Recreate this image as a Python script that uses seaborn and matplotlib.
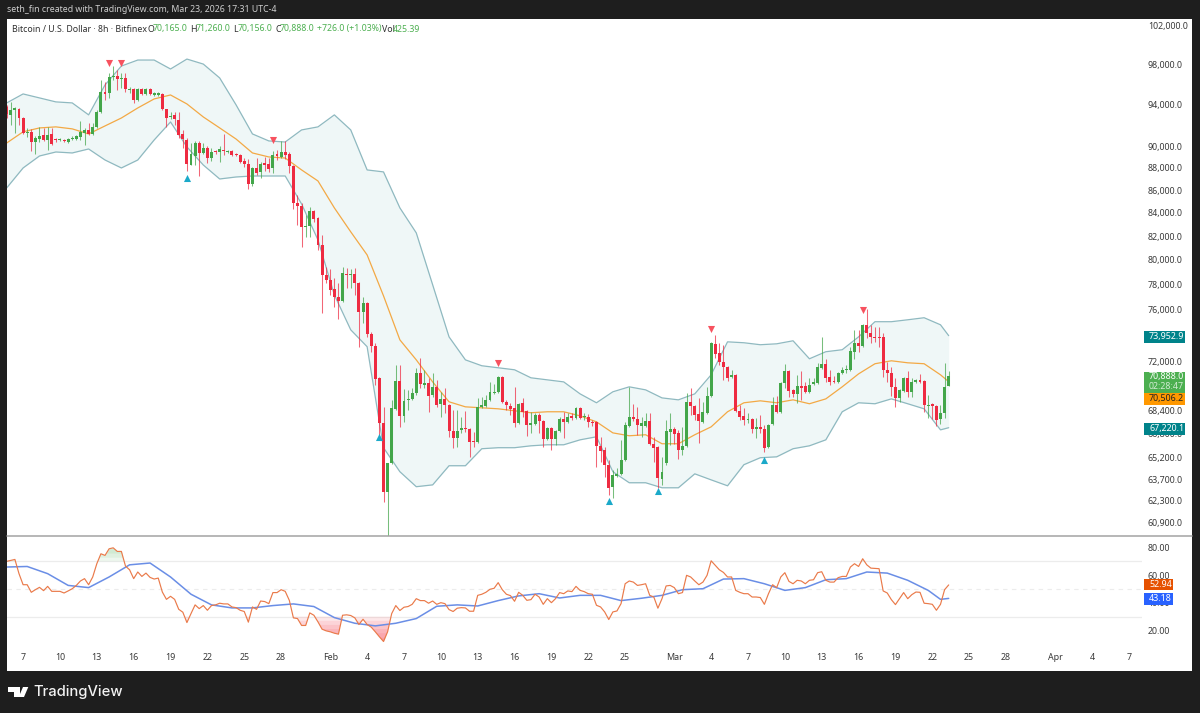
import pandas as pd
import numpy as np
import seaborn as sns
import matplotlib
matplotlib.use("Agg")
import matplotlib.pyplot as plt
from matplotlib.patches import Rectangle, Polygon, Circle

opens = [93750,92980,93460,93560,92680,91260,91350,90400,90690,91060,
 90590,91160,90690,90590,90590,90400,90690,90690,90880,91260,
 91540,91160,91830,93270,95210,95110,96710,96810,96510,96610,
 95410,95510,94430,95510,95020,95510,94920,94920,95020,93560,
 92780,92980,92490,91160,90590,88270,89100,90310,89380,89850,
 88910,89570,89470,89660,89470,89570,89290,89190,88640,88360,
 86550,88000,87640,88460,88360,88000,89290,89010,89470,89290,
 88180,84860,84600,82790,82870,84160,83550,81250,78770,78360,
 77630,76990,76670,78850,78770,78850,78120,75810,76510,74090,
 73180,70790,67560,62900,64820,68550,70570,68050,69190,69260,
 69690,71160,70280,70420,69550,70130,68910,69260,68840,67000,
 66520,67070,67210,67140,66310,66240,68690,68770,69190,69690,
 69770,70860,69050,68770,68620,67560,68980,68410,67420,67490,
 68120,67700,66450,67210,66450,67000,67840,67630,68050,67910,
 68620,67980,67980,67630,67630,65970,65700,64690,63230,63940,
 64080,65020,67350,67980,67840,67350,67350,67700,66110,65900,
 63750,64820,66930,67140,66860,65700,65970,69050,68770,68200,
 67630,68270,69480,73330,72650,71970,71600,70860,71010,68410,
 68050,67770,67840,67140,67280,67140,65900,67490,68840,68340,
 70420,71310,69910,69620,70200,70200,69770,70350,70420,71530,
 71830,70860,70570,70490,71160,71380,71380,72730,73400,73180,
 74790,74170,73860,73860,73860,71380,71160,70130,69330,69840,
 70790,69770,70490,70640,70570,68770,68910,68770,67840,68270,
 70165]
highs = [93950,94240,93750,93650,92780,91730,91640,90970,91830,91730,
 91830,91730,90780,90780,90690,90780,90970,91060,92400,91730,
 92210,92210,93460,96410,96210,97110,97810,97410,97110,97110,
 95710,95610,95610,95610,95610,95610,95210,95210,95110,93560,
 93270,93270,93270,91540,90780,90310,90500,90500,90310,90030,
 89850,89660,90030,91160,89660,89660,89380,89290,88910,88820,
 88090,88910,88550,89010,88910,89570,89660,90500,90500,89470,
 88270,85570,84860,83810,84510,84250,83640,82100,79430,79260,
 78520,78120,79430,79340,79260,79340,78200,76980,76590,74250,
 73410,70860,68690,64820,69190,71750,71750,69980,69910,70050,
 71530,72270,71380,70790,71160,70640,69770,70060,68910,68480,
 68480,67980,68410,67210,66930,69330,69400,69550,70490,70350,
 70930,70930,69190,68980,70130,68980,69330,68480,68340,68270,
 68270,67770,67280,67280,67070,67980,68340,68270,68270,68690,
 68690,68270,68200,67770,67700,66590,65900,65020,64350,64490,
 66380,67630,70130,68910,68690,67980,68270,68270,66590,65970,
 65220,67770,68270,67280,67070,67280,69690,70060,68840,69330,
 69050,70130,73480,74010,73410,73260,71680,71380,71080,68840,
 68620,68270,67910,67910,68120,67420,67490,69400,69480,70490,
 71830,71380,69980,71010,71310,70490,70790,70790,71900,73860,
 72200,71380,70930,71230,71600,71750,73110,74400,74400,74870,
 76050,74790,74630,74630,74170,71970,71600,70790,69980,70860,
 71310,70790,70710,71080,70640,69550,68980,68840,68840,71900,
 71260]
lows = [92680,92020,91260,92020,91180,90880,89570,89290,90400,90500,
 89660,90130,90400,90500,90400,90310,90590,90590,90590,90130,
 91060,91060,91730,93170,94430,94630,96410,95410,95610,95210,
 95110,94140,94330,94920,94920,94920,94820,94820,93460,91830,
 92590,92020,90780,89850,87730,88270,88270,87270,89290,88460,
 88640,89290,88550,89190,89380,89100,89100,88460,88090,86110,
 86370,87370,87090,87730,87640,87550,88730,88910,88820,87550,
 84340,82960,81080,81920,81920,83210,80830,75730,78120,77150,
 76200,75260,76590,77710,77710,77150,73100,74950,73860,72730,
 70280,66590,62250,60100,64750,68480,67280,67630,68480,69190,
 69550,70060,70060,68340,69400,68690,67980,68270,66590,65840,
 65900,66860,66930,65220,65900,66170,68620,68690,69120,69620,
 69690,68980,68480,68130,67280,67490,67980,66660,66860,67420,
 66860,65900,66380,65700,66040,66930,66520,67560,67770,67840,
 67840,67770,67280,67350,64550,64880,63880,62700,62510,63880,
 64020,64950,67280,67700,66730,66590,67280,66040,64880,63160,
 63350,64690,66040,66110,65090,65360,65900,68130,67770,66170,
 67560,68200,69400,72270,71750,70640,70570,70790,68340,67770,
 67420,67560,66860,66520,66860,65560,65840,67420,68270,68270,
 70060,69400,69400,68980,69190,69690,69690,70280,70350,71450,
 70490,70280,70420,70420,71080,71160,71310,72200,72730,73110,
 73780,73410,73480,73110,70860,70490,69480,68690,69050,69770,
 69400,69400,70420,70420,68340,67910,67840,67350,67490,67910,
 70156]
closes = [93070,93460,93650,92680,91260,91350,90400,90780,90970,90590,
 91060,90220,90590,90690,90500,90690,90780,90970,91350,91540,
 91160,91830,93270,95210,95020,96710,96810,96510,96610,95510,
 95510,94430,95510,95020,95510,95020,95110,95110,93560,92680,
 92880,92590,91060,90690,88360,89290,90310,89380,89850,88910,
 89470,89470,89750,89570,89570,89190,89190,88550,88360,86550,
 88000,87550,88360,88270,87910,89190,89100,89470,89190,88180,
 84860,84600,82790,82870,84160,83470,81250,78770,78360,77550,
 76990,76670,78930,78770,78850,78120,75810,76510,74090,73180,
 70710,67560,62900,64820,68620,70570,68050,69120,69260,69690,
 71160,70350,70420,69480,70130,68840,69260,68840,67000,66520,
 67000,67210,67140,66240,66240,68690,68840,69190,69770,69770,
 70860,69050,68840,68550,67560,68910,68340,67420,67560,68120,
 67700,66450,67210,66450,67000,67840,67630,67980,67910,68620,
 67910,68050,67630,67560,65970,65630,64690,63160,64020,64080,
 65020,67420,67980,67840,67420,67560,67700,66110,65840,63810,
 64220,67000,67140,66790,65700,65970,69050,68770,68130,67700,
 68340,69480,73400,72580,71970,71600,70790,71010,68410,67980,
 67770,67840,67140,67280,67140,65840,67420,68840,68340,70420,
 71310,69840,69620,70200,70060,69770,70280,70490,71600,71830,
 70790,70490,70490,71160,71380,71450,72800,73400,73180,74790,
 74170,73860,73780,73780,71380,71160,70130,69330,69910,70790,
 69770,70490,70640,70490,68840,68840,68770,67770,68270,70130,
 70888]

band_bars = list(range(0, 229, 4)) + [230]
band_upper = [94140,95020,94630,94240,94140,92980,95910,97810,98420,98420,
 97510,98520,98010,96610,93950,91160,90500,90400,91540,91830,
 92980,91540,87820,87640,84430,82270,77960,73860,72120,71680,
 71530,71380,70790,70640,70490,69620,68980,69770,70130,69910,
 69330,69190,69620,71010,73480,73410,73260,73330,73560,72200,
 72730,72880,73860,75030,75030,75180,75340,74790,73953]
band_middle = [90310,91360,91730,91830,91640,91160,91920,92680,93650,94530,
 94920,94040,92780,91730,90680,89380,89010,88910,87820,86820,
 84430,82360,80410,77070,73630,72120,70490,69050,68690,68620,
 68550,68410,68270,68340,68340,68050,67630,66860,66660,66730,
 66110,66110,66730,67280,68340,68980,69120,68980,69190,68910,
 69260,70130,71080,71830,72050,71900,71830,71010,70506]
band_lower = [86200,88000,89100,89470,89380,89750,88730,88000,88730,90590,
 92300,89940,88270,87000,87180,87270,87270,87270,84770,81670,
 77150,74400,73110,65840,64220,63230,63350,64620,64620,65770,
 65840,65840,65970,66040,66040,66380,66590,64220,63490,63490,
 63160,63160,64080,63680,63290,64690,65160,65220,65770,65970,
 66380,68340,68980,68910,69260,68910,68550,67070,67220]

rsi = [70.0,70.7,71.4,61.1,53.1,53.1,47.6,49.5,51.2,48.8,
 51.9,48.3,48.3,48.3,47.1,48.6,50.2,52.6,55.8,57.5,
 53.1,58.7,68.3,75.5,74.3,79.1,79.8,77.2,77.2,66.6,
 63.9,57.5,62.3,59.1,61.5,58.4,57.2,57.9,47.8,42.5,
 44.7,42.5,35.3,33.2,25.7,32.2,38.5,35.8,38.0,34.6,
 38.0,38.5,39.7,39.2,39.2,37.0,36.5,34.6,33.7,26.0,
 37.0,35.3,41.3,40.9,39.4,47.4,47.4,49.5,48.3,41.8,
 29.1,28.6,23.6,23.6,32.7,31.0,26.2,20.9,19.7,19.0,
 18.0,17.3,31.0,31.3,30.8,29.1,24.3,28.1,24.3,22.4,
 19.0,15.4,12.0,19.0,32.2,38.0,34.4,36.8,37.3,38.9,
 43.0,41.6,41.6,39.7,41.3,38.9,40.1,39.4,35.1,33.7,
 36.1,36.5,36.3,33.9,33.9,45.4,46.2,47.6,49.8,50.5,
 54.6,49.5,46.2,45.2,41.1,47.6,45.4,41.8,42.3,46.2,
 44.2,38.9,43.0,40.1,43.0,47.4,46.6,48.6,48.1,51.9,
 49.0,48.1,46.6,46.2,38.2,37.0,33.4,27.9,33.4,34.1,
 39.4,53.8,55.8,55.0,52.6,53.1,53.8,45.4,44.2,36.1,
 43.0,52.2,52.6,51.0,46.6,47.4,59.9,58.7,55.8,53.1,
 55.0,59.9,70.4,67.1,63.9,62.0,58.7,58.7,49.0,47.6,
 46.6,46.6,44.2,44.2,43.8,38.9,46.6,53.1,51.0,58.7,
 61.8,55.5,53.8,56.3,55.8,53.8,56.3,56.7,61.8,62.5,
 56.3,55.0,55.0,58.2,59.1,59.1,65.9,68.3,66.3,71.9,
 67.5,65.1,64.9,64.7,48.6,47.1,42.3,38.7,43.0,47.4,
 43.0,45.9,47.8,47.6,39.7,39.4,38.9,34.6,38.9,49.5,
 52.94]
rsi_ma_bars = list(range(0, 226, 5)) + [228, 230]
rsi_ma = [65.9,66.3,61.1,52.6,51.0,58.7,67.5,68.8,58.7,46.2,
 38.5,36.3,36.3,38.0,39.2,37.3,29.3,25.2,23.3,25.2,
 28.6,37.5,38.5,37.7,41.6,45.0,46.6,43.5,45.4,45.4,
 41.6,43.3,45.4,49.5,50.2,57.2,57.5,53.8,49.0,51.0,
 56.7,57.5,62.3,61.5,56.3,49.0,42.5,43.18]

sell_bars = [25, 28, 65, 120, 172, 209]
sell_prices = [98140, 98140, 90590, 71920, 74480, 75970]
buy_bars = [44, 91, 147, 159, 185]
buy_prices = [87120, 66590, 62280, 62920, 65020]

price_ticks = [102000,98000,94000,90000,88000,86000,84000,82000,80000,78000,76000,
               72000,68400,66800,65200,63700,62300,60900]
rsi_ticks = [80, 60, 40, 20]
date_ticks = ["2026-01-07","2026-01-10","2026-01-13","2026-01-16","2026-01-19","2026-01-22",
              "2026-01-25","2026-01-28","2026-02-01","2026-02-04","2026-02-07","2026-02-10",
              "2026-02-13","2026-02-16","2026-02-19","2026-02-22","2026-02-25","2026-03-01",
              "2026-03-04","2026-03-07","2026-03-10","2026-03-13","2026-03-16","2026-03-19",
              "2026-03-22","2026-03-25","2026-03-28","2026-04-01","2026-04-04","2026-04-07"]
date_labels = ["7","10","13","16","19","22","25","28","Feb","4","7","10","13","16","19","22","25",
               "Mar","4","7","10","13","16","19","22","25","28","Apr","4","7"]

sns.set_theme(style="white")
plt.rcParams["font.family"] = ["Noto Sans", "DejaVu Sans"]
plt.rcParams["axes.unicode_minus"] = False

W, H = 1200, 713
def rect_px(x0, y0, x1, y1):
    return [x0 / W, 1 - y1 / H, (x1 - x0) / W, (y1 - y0) / H]
def fx(x): return x / W
def fy(y): return 1 - y / H

UP, DOWN = "#43a64a", "#ee2b41"
BAND, BAND_FILL = "#8fb9c0", "#eff7f7"
TXT = "#3a3a3a"

fig = plt.figure(figsize=(12, 7.13), dpi=100, facecolor="#1e1e1e")
fig.add_artist(Rectangle((fx(7), fy(671)), 1185 / W, 652 / H, transform=fig.transFigure,
                         facecolor="white", edgecolor="none", zorder=-2))

ax = fig.add_axes(rect_px(7, 19, 1142, 535.5))
rx = fig.add_axes(rect_px(7, 536.5, 1142, 670.5), sharex=ax)
for a in (ax, rx):
    a.set_facecolor("none")
    for s in a.spines.values():
        s.set_visible(False)

start = pd.Timestamp("2026-01-05 16:00")
bars = pd.date_range(start, periods=len(closes), freq="8h")
df = pd.DataFrame({"t": bars, "o": opens, "h": highs, "l": lows, "c": closes})
df["up"] = df.c >= df.o
df["rsi"] = rsi

bd = pd.DataFrame({"t": bars[band_bars], "u": band_upper, "m": band_middle, "d": band_lower})

ax.set_yscale("log")
ax.fill_between(bd.t, bd.d, bd.u, color=BAND_FILL, lw=0, zorder=1)
sns.lineplot(data=bd, x="t", y="u", ax=ax, color=BAND, lw=0.9, zorder=2, legend=False, estimator=None)
sns.lineplot(data=bd, x="t", y="d", ax=ax, color=BAND, lw=0.9, zorder=2, legend=False, estimator=None)
sns.lineplot(data=bd, x="t", y="m", ax=ax, color="#f3a945", lw=0.9, zorder=2.5, legend=False, estimator=None)

for up, col in ((True, UP), (False, DOWN)):
    d = df[df.up == up]
    ax.vlines(d.t, d.l, d.h, color=col, lw=0.75, alpha=0.72, zorder=3)
    lo = d[["o", "c"]].min(axis=1)
    hi = d[["o", "c"]].max(axis=1)
    ax.bar(d.t, hi - lo, bottom=lo, width=0.72 * 8 / 24, color=col, lw=0, zorder=4)

sns.scatterplot(x=bars[sell_bars], y=sell_prices, ax=ax, marker="v", color="#f7525f",
                s=26, linewidth=0, zorder=5, legend=False)
sns.scatterplot(x=bars[buy_bars], y=buy_prices, ax=ax, marker="^", color="#1ba9c9",
                s=26, linewidth=0, zorder=5, legend=False)

ax.set_xlim(start + pd.Timedelta(hours=8 * 0.07), start + pd.Timedelta(hours=8 * 277.2))
ax.set_ylim(60110, 102700)
ax.minorticks_off()
ax.set_yticks(price_ticks)
ax.set_yticklabels([f"{v:,.1f}" for v in price_ticks])
ax.yaxis.tick_right()
ax.tick_params(axis="y", which="both", length=0, pad=4.3, labelsize=6.4, labelcolor=TXT)
ax.tick_params(axis="x", which="both", length=0, labelbottom=False)
ax.set_xlabel(""); ax.set_ylabel("")

# RSI pane
x_num = bars
for lvl in (70, 30):
    rx.axhline(lvl, color="#ececec", lw=0.9, zorder=1)
rx.axhline(50, color="#ececec", lw=0.8, ls=(0, (4, 4)), zorder=1)
r = np.array(rsi)
for level in (30, 27, 24, 21, 18, 15):
    rx.fill_between(x_num, r, level, where=r < level, interpolate=True,
                    color="#f7525f", alpha=0.13, lw=0, zorder=1.5)
for level in (70, 73, 76):
    rx.fill_between(x_num, r, level, where=r > level, interpolate=True,
                    color="#4caf50", alpha=0.09, lw=0, zorder=1.5)
sns.lineplot(data=df, x="t", y="rsi", ax=rx, color="#ea7a4a", lw=0.85, zorder=3, legend=False, estimator=None)
sns.lineplot(x=bars[rsi_ma_bars], y=rsi_ma, ax=rx, color="#6a8ee6", lw=1.1, zorder=2.5, legend=False, estimator=None)
rx.set_ylim(-9, 88)
rx.set_yticks(rsi_ticks)
rx.set_yticklabels([f"{v:.2f}" for v in rsi_ticks])
rx.yaxis.tick_right()
rx.tick_params(axis="y", length=0, pad=4.3, labelsize=6.4, labelcolor=TXT)
rx.set_xticks(pd.to_datetime(date_ticks))
rx.set_xticklabels(date_labels)
rx.tick_params(axis="x", length=0, pad=-12.5, labelsize=6.4, labelcolor=TXT)
for lab in rx.get_xticklabels():
    if lab.get_text() in ("Feb", "Mar", "Apr"):
        lab.set_fontweight("bold")
rx.set_xlabel(""); rx.set_ylabel("")

# pane separator
fig.add_artist(plt.Line2D([fx(7), fx(1192)], [fy(535.8), fy(535.8)], transform=fig.transFigure,
                          color="#a3a3a3", lw=1.1, zorder=2))

# price badges
def badge(x0, y0, x1, y1, col):
    fig.add_artist(Rectangle((fx(x0), fy(y1)), (x1 - x0) / W, (y1 - y0) / H,
                             transform=fig.transFigure, facecolor=col, edgecolor="none", zorder=3))
def btxt(x, y, s, col, alpha=1.0, size=6.4):
    fig.text(fx(x), fy(y), s, color=col, fontsize=size, ha="left", va="center", alpha=alpha, zorder=4)

badge(1143.7, 331, 1185, 342.7, "#00838a")
btxt(1149, 336.8, "73,952.9", "white")
badge(1143.7, 371.7, 1185, 393.3, "#4caf50")
btxt(1149, 377, "70,888.0", "white")
btxt(1149, 387, "02:28:47", "white", 0.75)
badge(1143.7, 393.3, 1185, 405, "#ff9800")
btxt(1149, 398.8, "70,506.2", "#222222")
badge(1143.7, 423, 1185, 435, "#00838a")
btxt(1149, 428.8, "67,220.1", "white")
badge(1143.7, 578.7, 1173, 590, "#e65100")
btxt(1149, 584.3, "52.94", "white")
badge(1143.7, 592.7, 1173, 604.7, "#2962ff")
btxt(1149, 598.5, "43.18", "white")

# header
fig.text(fx(7), fy(10), "seth_fin created with TradingView.com, Mar 23, 2026 17:31 UTC-4",
         color="#cfcfcf", fontsize=6.3, ha="left", va="center")
G = "#4caf50"; D = "#2e2e2e"
legend_parts = [(12.5, "Bitcoin / U.S. Dollar · 8h · Bitfinex", D), (147.5, "O", D), (153, "70,165.0", G),
                (190.5, "H", D), (196, "71,260.0", G), (233, "L", D), (237.5, "70,156.0", G),
                (275, "C", D), (280, "70,888.0", G), (317, "+726.0 (+1.03%)", G),
                (382, "Vol", D), (393, "425.39", G)]
for x, s, c in legend_parts:
    fig.text(fx(x), fy(29), s, color=c, fontsize=6.3, ha="left", va="center")

# footer logo
aspect = lambda pts: [(fx(a), fy(b)) for a, b in pts]
fig.add_artist(Polygon(aspect([(8.3, 687), (19.5, 687), (19.5, 697), (13.5, 697), (13.5, 691.5), (8.3, 691.5)]),
                       closed=True, transform=fig.transFigure, facecolor="white", edgecolor="none"))
fig.add_artist(Polygon(aspect([(23, 687), (28.3, 687), (24, 697), (18.7, 697)]),
                       closed=True, transform=fig.transFigure, facecolor="white", edgecolor="none"))
fig.text(fx(33.5), fy(692), "TradingView", color="#f2f2f2", fontsize=10.6, fontweight="medium",
         family="Inter", ha="left", va="center")

fig.savefig("out.png", dpi=100, facecolor=fig.get_facecolor())
